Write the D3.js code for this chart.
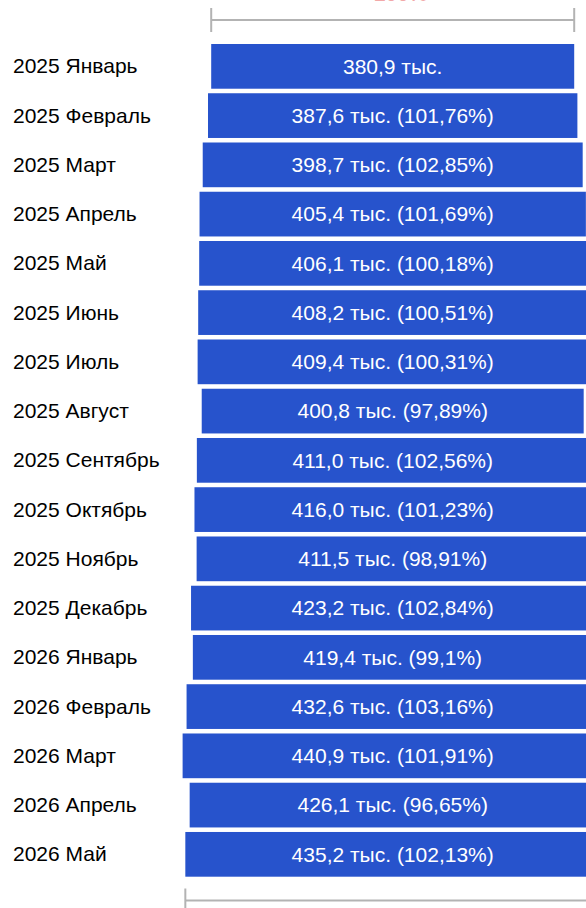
<!DOCTYPE html>
<html>
<head>
<meta charset="utf-8">
<script src="https://cdn.jsdelivr.net/npm/d3@7"></script>
<style>
  html, body { margin: 0; padding: 0; background: #fff; }
  svg { display: block; }
</style>
</head>
<body>
<svg id="chart" width="586" height="908"></svg>
<script>
// Monthly totals, thousands
const months = [
  "2025 Январь", "2025 Февраль", "2025 Март", "2025 Апрель", "2025 Май",
  "2025 Июнь", "2025 Июль", "2025 Август", "2025 Сентябрь", "2025 Октябрь",
  "2025 Ноябрь", "2025 Декабрь", "2026 Январь", "2026 Февраль", "2026 Март",
  "2026 Апрель", "2026 Май"
];
const values = [
  380.9, 387.6, 398.7, 405.4, 406.1, 408.2, 409.4, 400.8, 411.0, 416.0,
  411.5, 423.2, 419.4, 432.6, 440.9, 426.1, 435.2
];
// Month-over-month change, percent of previous month
const changes = [
  null, 101.76, 102.85, 101.69, 100.18, 100.51, 100.31, 97.89, 102.56, 101.23,
  98.91, 102.84, 99.1, 103.16, 101.91, 96.65, 102.13
];
// Comparison label above the first-month bracket
const compareLabel = "100%";

const svg = d3.select("#chart");
const centerX = 392.7;
const font = "Liberation Sans, Arial, sans-serif";
const fmt1 = v => v.toFixed(1).replace(".", ",");
const fmtPct = v => String(+v.toFixed(2)).replace(".", ",");

const w = d3.scaleLinear().domain([0, 380.9]).range([0, 363]);
const y = d3.scaleBand()
  .domain(months)
  .range([44, 44 + 16 * 49.25 + 44.7])
  .paddingInner(0.092)
  .paddingOuter(0);

const rows = months.map((m, i) => ({ m, v: values[i], c: changes[i] }));

// Category labels
svg.append("g").selectAll("text")
  .data(rows).join("text")
  .attr("x", 13)
  .attr("y", d => y(d.m) + y.bandwidth() / 2)
  .attr("dy", "0.33em")
  .attr("font-family", font)
  .attr("font-size", 21)
  .attr("fill", "#000")
  .text(d => d.m);

// Centered bars
svg.append("g").selectAll("rect")
  .data(rows).join("rect")
  .attr("x", d => centerX - w(d.v) / 2)
  .attr("y", d => y(d.m))
  .attr("width", d => w(d.v))
  .attr("height", y.bandwidth())
  .attr("fill", "#2753CC");

// Value labels
svg.append("g").selectAll("text")
  .data(rows).join("text")
  .attr("x", centerX)
  .attr("y", d => y(d.m) + y.bandwidth() / 2)
  .attr("dy", "0.35em")
  .attr("text-anchor", "middle")
  .attr("font-family", font)
  .attr("font-size", 21)
  .attr("fill", "#fff")
  .text(d => fmt1(d.v) + " тыс." + (d.c == null ? "" : " (" + fmtPct(d.c) + "%)"));

// Comparison brackets for the first and last month
function bracket(v, lineY) {
  const g = svg.append("g")
    .attr("stroke", "#b3b3b3")
    .attr("stroke-width", 2)
    .attr("fill", "none");
  const x0 = centerX - w(v) / 2, x1 = centerX + w(v) / 2;
  g.append("line").attr("x1", x0).attr("x2", x1).attr("y1", lineY).attr("y2", lineY);
  g.append("line").attr("x1", x0).attr("x2", x0).attr("y1", lineY - 12).attr("y2", lineY + 12);
  g.append("line").attr("x1", x1).attr("x2", x1).attr("y1", lineY - 12).attr("y2", lineY + 12);
}
bracket(values[0], 20);
bracket(values[values.length - 1], 900.5);

svg.append("text")
  .attr("x", centerX + 8)
  .attr("y", 1)
  .attr("text-anchor", "middle")
  .attr("font-family", font)
  .attr("font-size", 21)
  .attr("font-weight", "bold")
  .attr("fill", "#f2a8a8")
  .text(compareLabel);
</script>
</body>
</html>
